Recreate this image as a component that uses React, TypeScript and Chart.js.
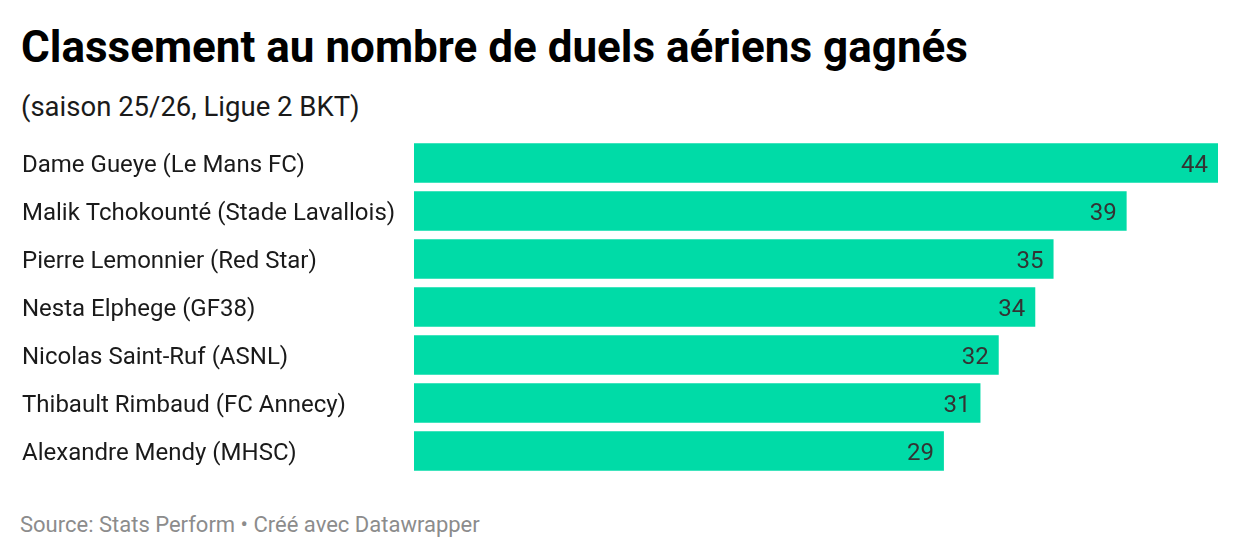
import React, { useEffect, useRef } from "react";
import { Chart, registerables } from "chart.js";

Chart.register(...registerables);

const players = [
  "Dame Gueye (Le Mans FC)",
  "Malik Tchokounté (Stade Lavallois)",
  "Pierre Lemonnier (Red Star)",
  "Nesta Elphege (GF38)",
  "Nicolas Saint-Ruf (ASNL)",
  "Thibault Rimbaud (FC Annecy)",
  "Alexandre Mendy (MHSC)",
];
const duelsWon = [44, 39, 35, 34, 32, 31, 29];

const barColor = "#00dba7";
const font = "Roboto, 'Noto Sans', sans-serif";

// writes the value inside the end of each bar
const valueLabels = {
  id: "valueLabels",
  afterDatasetsDraw(chart: Chart) {
    const { ctx } = chart;
    const meta = chart.getDatasetMeta(0);
    ctx.save();
    ctx.font = `24px ${font}`;
    ctx.fillStyle = "#333333";
    ctx.textAlign = "right";
    ctx.textBaseline = "middle";
    meta.data.forEach((bar: any, i: number) => {
      ctx.fillText(String(duelsWon[i]), bar.x - 10, bar.y + 3);
    });
    ctx.restore();
  },
};

export default function App() {
  const canvasRef = useRef<HTMLCanvasElement | null>(null);

  useEffect(() => {
    document.body.style.margin = "0";
    const ctx = canvasRef.current?.getContext("2d");
    if (!ctx) return;

    const chart = new Chart(ctx, {
      type: "bar",
      data: {
        labels: players,
        datasets: [
          {
            data: duelsWon,
            backgroundColor: barColor,
            categoryPercentage: 1,
            barPercentage: 0.82,
          },
        ],
      },
      options: {
        indexAxis: "y",
        animation: false,
        responsive: false,
        maintainAspectRatio: false,
        layout: { padding: { left: 22, right: 22, top: 0, bottom: 0 } },
        scales: {
          x: { display: false, min: 0, max: 44 },
          y: {
            grid: { display: false },
            border: { display: false },
            afterFit: (scale: any) => {
              scale.width = 392;
              // no extra room for the half labels at the ends
              scale.paddingTop = 0;
              scale.paddingBottom = 0;
            },
            ticks: {
              crossAlign: "far",
              padding: 0,
              labelOffset: 3,
              color: "#1a1a1a",
              font: { family: font, size: 24 },
            },
          },
        },
        plugins: {
          legend: { display: false },
          tooltip: { enabled: false },
        },
      },
      plugins: [valueLabels],
    });

    return () => chart.destroy();
  }, []);

  return (
    <div
      style={{
        position: "relative",
        width: 1240,
        height: 558,
        background: "#fff",
        fontFamily: font,
        overflow: "hidden",
      }}
    >
      <div
        style={{
          position: "absolute",
          left: 21,
          top: 25,
          fontSize: 44,
          lineHeight: "44px",
          fontWeight: 700,
          color: "#000",
          whiteSpace: "nowrap",
        }}
      >
        Classement au nombre de duels aériens gagnés
      </div>
      <div
        style={{
          position: "absolute",
          left: 21,
          top: 93,
          fontSize: 27.5,
          lineHeight: "27.5px",
          color: "#1a1a1a",
          whiteSpace: "nowrap",
        }}
      >
        (saison 25/26, Ligue 2 BKT)
      </div>
      <div style={{ position: "absolute", left: 0, top: 139, width: 1240, height: 336 }}>
        <canvas ref={canvasRef} width={1240} height={336} />
      </div>
      <div
        style={{
          position: "absolute",
          left: 20,
          top: 514,
          fontSize: 22,
          lineHeight: "22px",
          color: "#8c8c8c",
          whiteSpace: "nowrap",
        }}
      >
        Source: Stats Perform • Créé avec Datawrapper
      </div>
    </div>
  );
}
